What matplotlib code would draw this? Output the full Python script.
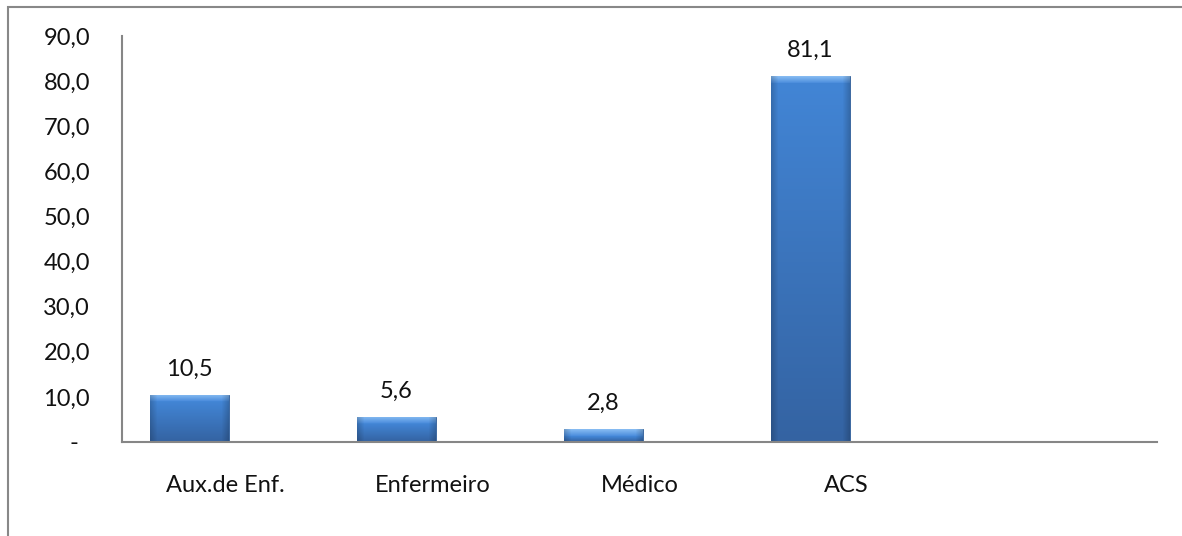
import matplotlib
matplotlib.use("Agg")
import matplotlib.pyplot as plt
import matplotlib.transforms as mtransforms
import numpy as np
from matplotlib.colors import to_rgb
from matplotlib.patches import Rectangle

categories = ["Aux.de Enf.", "Enfermeiro", "Médico", "ACS", ""]
values = [10.5, 5.6, 2.8, 81.1]
yticks = [0, 10, 20, 30, 40, 50, 60, 70, 80, 90]

plt.rcParams['font.family'] = ['Lato', 'DejaVu Sans']
FS = 17

fig = plt.figure(figsize=(11.82, 5.36), dpi=100)
ax = fig.add_axes([0.1032, 0.1754, 0.8757, 0.7574])

x = np.arange(len(values))
bars = ax.bar(x - 0.175, values, width=0.38, color="#3C78C4",
              edgecolor="#2E5C96", linewidth=0.6, zorder=2)

ax.set_xlim(-0.5, len(categories) - 0.5)
ax.set_ylim(0, 90)


def bar_image(hpx, wpx):
    top_light = np.array(to_rgb("#86BBF2"))
    top_mid = np.array(to_rgb("#4F90DE"))
    body_top = np.array(to_rgb("#4285D5"))
    body_bot = np.array(to_rgb("#3463A2"))
    bevel = 7
    rows = []
    for i in range(hpx):
        if i < bevel:
            t = i / max(bevel - 1, 1)
            c = top_light * (1 - t) + top_mid * t
        else:
            t = (i - bevel) / max(hpx - bevel - 1, 1)
            c = body_top * (1 - t) + body_bot * t
        rows.append(c)
    col = np.array(rows)[:, None, :]
    xs = np.linspace(-1, 1, wpx)
    shade = 1 - 0.18 * np.clip((np.abs(xs) - 0.82) / 0.18, 0, 1)
    img = col * shade[None, :, None]
    return np.clip(img, 0, 1)


for b in bars:
    x0, y0 = b.get_x(), b.get_y()
    w, h = b.get_width(), b.get_height()
    p0 = ax.transData.transform((x0, y0))
    p1 = ax.transData.transform((x0 + w, y0 + h))
    hpx = max(int(round(abs(p1[1] - p0[1]))), 2)
    wpx = max(int(round(abs(p1[0] - p0[0]))), 2)
    im = ax.imshow(bar_image(hpx, wpx), aspect='auto', extent=(x0, x0 + w, y0, y0 + h),
                   origin='upper', zorder=2.5, interpolation='bilinear')
    im.set_clip_path(b)

for b, v in zip(bars, values):
    ax.annotate(f"{v:.1f}".replace('.', ','), (b.get_x() + b.get_width() / 2, v),
                xytext=(0, 11), textcoords='offset points', ha='center', va='bottom',
                fontsize=FS, color='#111111')

ax.set_xticks(np.arange(len(categories)))
ax.set_xticklabels(categories, fontsize=FS)
ax.set_yticks(yticks)
ax.set_yticklabels(["-" if t == 0 else f"{t:.1f}".replace('.', ',') for t in yticks], fontsize=FS)
ax.tick_params(axis='both', length=0, colors='#111111')
ax.tick_params(axis='y', pad=23)
ax.tick_params(axis='x', pad=24)

# Excel accounting-style zero label sits a little left of the numbers
zero_lbl = ax.get_yticklabels()[0]
zero_lbl.set_transform(zero_lbl.get_transform() +
                       mtransforms.ScaledTranslation(-12 / 100, 0, fig.dpi_scale_trans))

for s in ['top', 'right']:
    ax.spines[s].set_visible(False)
for s in ['left', 'bottom']:
    ax.spines[s].set_color('#868686')
    ax.spines[s].set_linewidth(1.5)
ax.spines['bottom'].set_zorder(3)

fig.patches.append(Rectangle((8 / 1182, -0.1), 1.2, (536 - 7) / 536 + 0.1,
                             transform=fig.transFigure, fill=False,
                             edgecolor='#888888', linewidth=1.5))

fig.savefig("out.png", dpi=100)
